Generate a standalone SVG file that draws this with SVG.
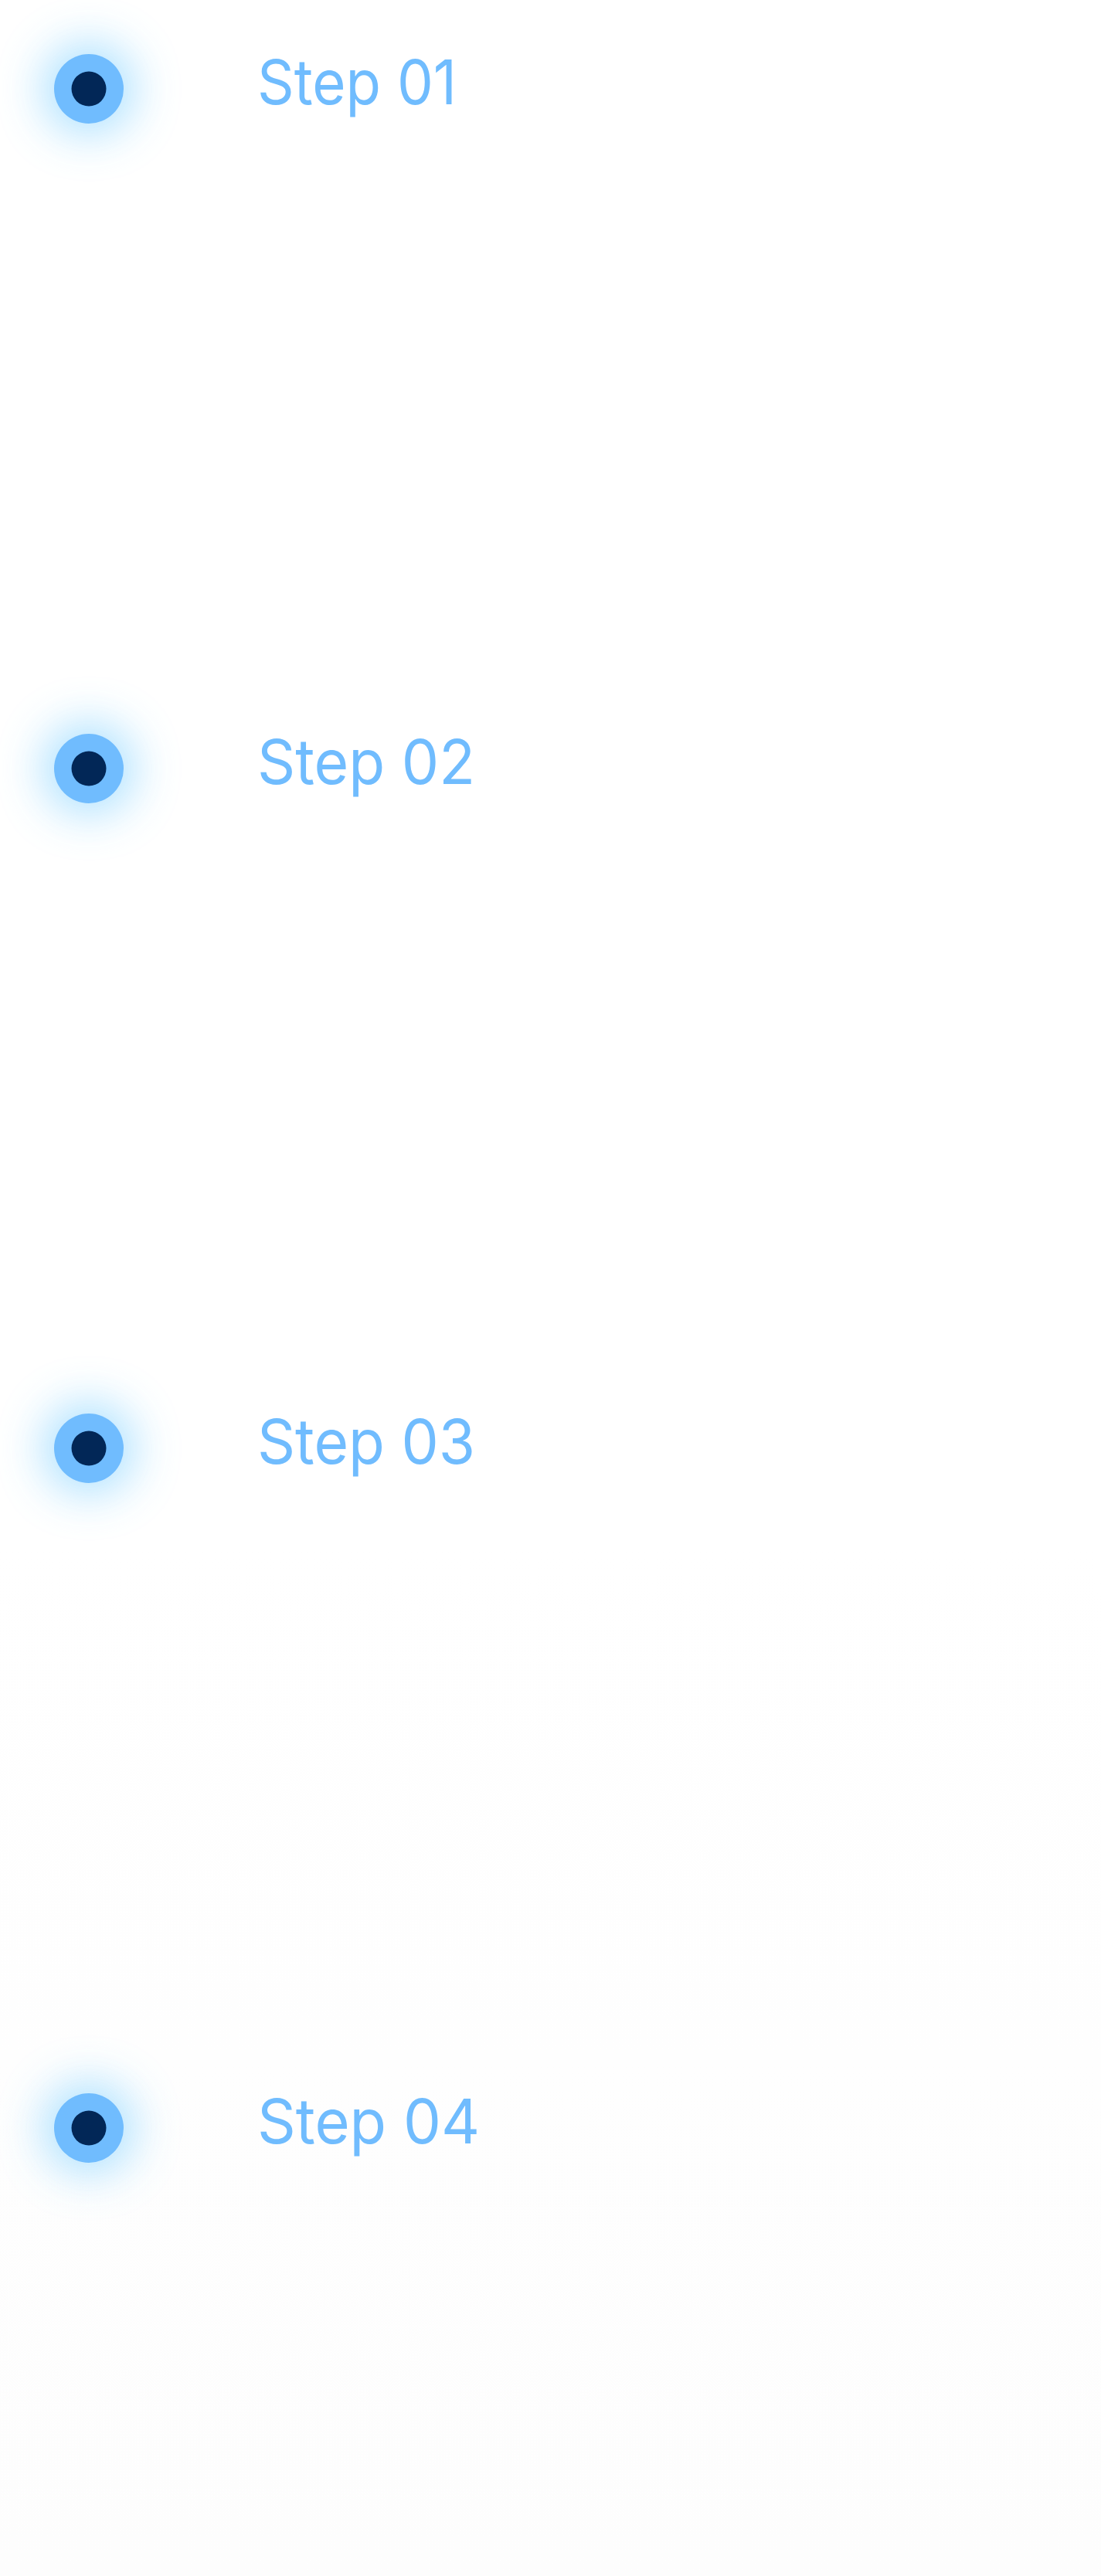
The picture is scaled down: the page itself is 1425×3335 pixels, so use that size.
<svg xmlns="http://www.w3.org/2000/svg" width="1425" height="3335" viewBox="0 0 1425 3335">
  <defs>
    <linearGradient id="bg" x1="0" y1="0" x2="0" y2="1">
      <stop offset="0" stop-color="#ffffff"/>
      <stop offset="0.6" stop-color="#ffffff"/>
      <stop offset="1" stop-color="#fdfdfd"/>
    </linearGradient>
    <filter id="glow" x="-300%" y="-300%" width="700%" height="700%">
      <feGaussianBlur stdDeviation="30"/>
    </filter>
  </defs>
  <style>
    .glow { fill: #9fdcff; opacity: 0.9; filter: url(#glow); }
    .outer { fill: #70bcfe; }
    .inner { fill: #022757; }
    .label { fill: #70bcfe; font-family: Inter, "Open Sans", "Liberation Sans", sans-serif; font-weight: 400; font-size: 80px; }
  </style>
  <rect x="0" y="0" width="1425" height="3335" fill="url(#bg)"/>
  <g id="connectors"></g>
  <g id="step01">
    <circle class="glow" cx="115" cy="115" r="58"/>
    <circle class="outer" cx="115" cy="115" r="45"/>
    <circle class="inner" cx="115" cy="115" r="22.5"/>
    <text class="label" x="333" y="135" textLength="258" lengthAdjust="spacingAndGlyphs">Step 01</text>
  </g>
  <g id="step02">
    <circle class="glow" cx="115" cy="995" r="58"/>
    <circle class="outer" cx="115" cy="995" r="45"/>
    <circle class="inner" cx="115" cy="995" r="22.5"/>
    <text class="label" x="333" y="1015" textLength="282" lengthAdjust="spacingAndGlyphs">Step 02</text>
  </g>
  <g id="step03">
    <circle class="glow" cx="115" cy="1875" r="58"/>
    <circle class="outer" cx="115" cy="1875" r="45"/>
    <circle class="inner" cx="115" cy="1875" r="22.5"/>
    <text class="label" x="333" y="1895" textLength="282" lengthAdjust="spacingAndGlyphs">Step 03</text>
  </g>
  <g id="step04">
    <circle class="glow" cx="115" cy="2755" r="58"/>
    <circle class="outer" cx="115" cy="2755" r="45"/>
    <circle class="inner" cx="115" cy="2755" r="22.5"/>
    <text class="label" x="333" y="2775" textLength="288" lengthAdjust="spacingAndGlyphs">Step 04</text>
  </g>
</svg>
